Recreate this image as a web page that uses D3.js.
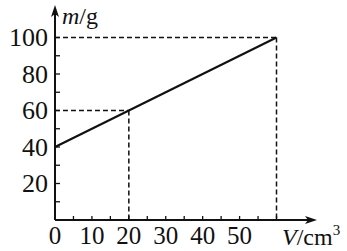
<!DOCTYPE html>
<html>
<head>
<meta charset="utf-8">
<script src="https://cdn.jsdelivr.net/npm/d3@7"></script>
<style>
  html, body { margin: 0; padding: 0; background: #fff; }
  text { font-family: "Liberation Serif", "Times New Roman", serif; fill: #111; }
</style>
</head>
<body>
<svg id="chart" width="347" height="251"></svg>
<script>
// ── Data ──
const volume = [0, 60];          // V / cm³
const mass = [40, 100];          // m / g
const guideV = [20, 60];         // dashed guide points
const guideM = [60, 100];
const xTickLabels = [0, 10, 20, 30, 40, 50];
const yTickLabels = [20, 40, 60, 80, 100];
const xMinorTicks = d3.range(5, 65, 5);
const yMinorTicks = d3.range(10, 110, 10);

const svg = d3.select("#chart");

const x = d3.scaleLinear().domain([0, 60]).range([55, 276.5]);
const y = d3.scaleLinear().domain([0, 100]).range([220, 37.5]);

const ink = "#111";

// ── Dashed guides ──
const guides = svg.append("g")
  .attr("stroke", ink)
  .attr("stroke-width", 1.5)
  .attr("stroke-dasharray", "5,3")
  .attr("fill", "none");

guideV.forEach((v, i) => {
  const m = guideM[i];
  guides.append("line")
    .attr("x1", x(0)).attr("x2", x(v))
    .attr("y1", y(m)).attr("y2", y(m));
  guides.append("line")
    .attr("x1", x(v)).attr("x2", x(v))
    .attr("y1", y(m)).attr("y2", y(0));
});

// ── Axes (drawn by hand, with arrows) ──
const axes = svg.append("g").attr("stroke", ink).attr("stroke-width", 2);
axes.append("line")
  .attr("x1", x(0)).attr("x2", 312)
  .attr("y1", y(0)).attr("y2", y(0));
axes.append("line")
  .attr("x1", x(0)).attr("x2", x(0))
  .attr("y1", y(0)).attr("y2", 12);

svg.append("path")
  .attr("d", `M317,${y(0)} L305,${y(0) - 4} L308,${y(0)} L305,${y(0) + 4} Z`)
  .attr("fill", ink);
svg.append("path")
  .attr("d", `M${x(0)},5 L${x(0) - 4},17 L${x(0)},14 L${x(0) + 4},17 Z`)
  .attr("fill", ink);

// ticks
svg.append("g").selectAll("line")
  .data(xMinorTicks)
  .join("line")
  .attr("x1", d => x(d)).attr("x2", d => x(d))
  .attr("y1", y(0)).attr("y2", y(0) - 4)
  .attr("stroke", ink).attr("stroke-width", 1.3);

svg.append("g").selectAll("line")
  .data(yMinorTicks)
  .join("line")
  .attr("x1", x(0)).attr("x2", x(0) + 5)
  .attr("y1", d => y(d)).attr("y2", d => y(d))
  .attr("stroke", ink).attr("stroke-width", 1.3);

// ── Tick labels ──
svg.append("g").selectAll("text")
  .data(xTickLabels)
  .join("text")
  .attr("x", d => x(d))
  .attr("y", 244)
  .attr("text-anchor", "middle")
  .attr("font-size", 25)
  .text(d => d);

svg.append("g").selectAll("text")
  .data(yTickLabels)
  .join("text")
  .attr("x", 48)
  .attr("y", d => y(d))
  .attr("dy", "0.34em")
  .attr("text-anchor", "end")
  .attr("font-size", 26)
  .text(d => d);

// ── Axis titles ──
const mLabel = svg.append("text").attr("x", 62).attr("y", 24).attr("font-size", 24);
mLabel.append("tspan").attr("font-style", "italic").text("m");
mLabel.append("tspan").text("/g");

const vLabel = svg.append("text").attr("x", 282).attr("y", 245).attr("font-size", 24);
vLabel.append("tspan").attr("font-style", "italic").text("V");
vLabel.append("tspan").text("/cm");
vLabel.append("tspan").attr("font-size", 15).attr("dy", -10).text("3");

// ── Data line ──
const line = d3.line().x(d => x(d[0])).y(d => y(d[1]));
svg.append("path")
  .datum(d3.zip(volume, mass))
  .attr("d", line)
  .attr("fill", "none")
  .attr("stroke", ink)
  .attr("stroke-width", 2.2);
</script>
</body>
</html>
